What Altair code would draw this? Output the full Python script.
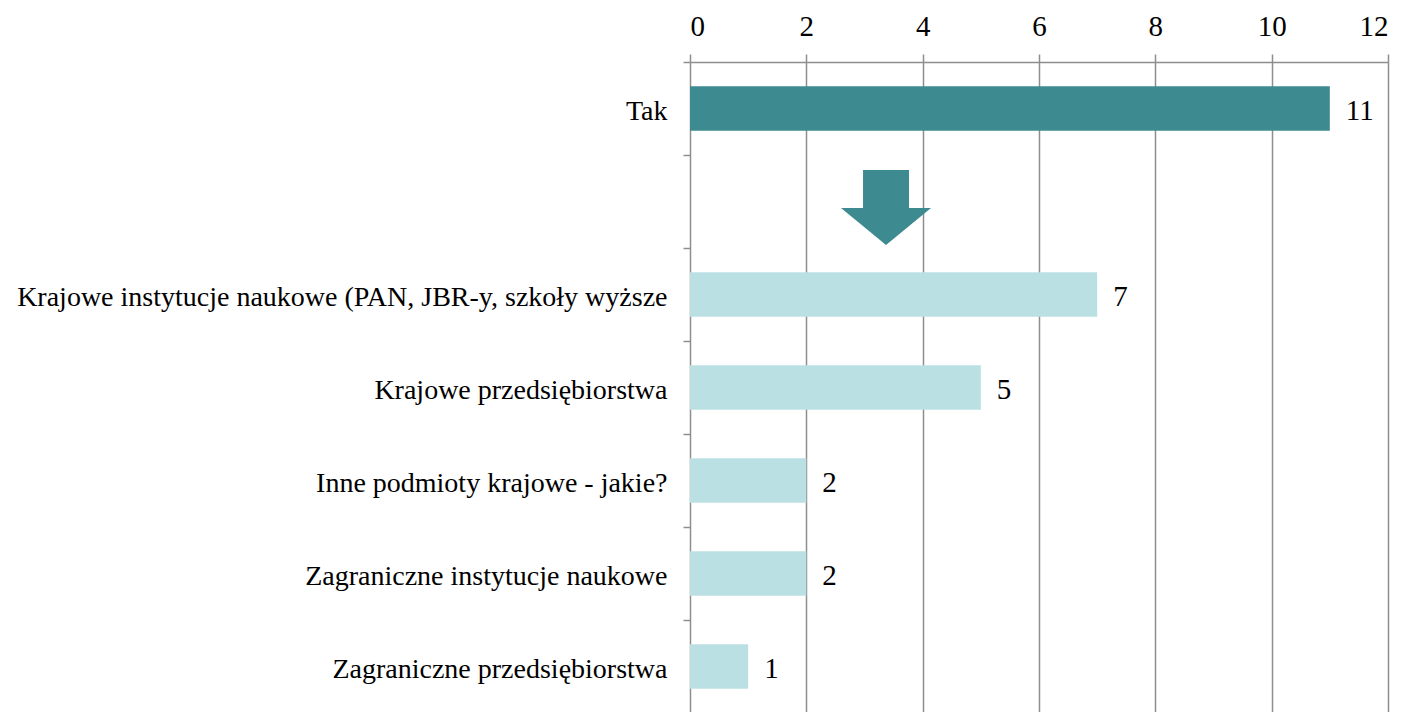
import altair as alt
import pandas as pd

categories = ["Tak", " ", "Krajowe instytucje naukowe (PAN, JBR-y, szkoły wyższe",
              "Krajowe przedsiębiorstwa", "Inne podmioty krajowe - jakie?",
              "Zagraniczne instytucje naukowe", "Zagraniczne przedsiębiorstwa"]
values = [11, None, 7, 5, 2, 2, 1]
groups = ["main", "none", "sub", "sub", "sub", "sub", "sub"]

arrow_x = [3.37]
arrow_cat = [" "]

df = pd.DataFrame({"cat": categories, "val": values, "grp": groups})
df_bars = df.dropna()
df_arrow = pd.DataFrame({"x": arrow_x, "cat": arrow_cat})

yenc = alt.Y("cat:N", sort=categories, title=None,
             scale=alt.Scale(domain=categories, paddingInner=0, paddingOuter=0),
             axis=alt.Axis(labelFont="Liberation Serif", labelFontSize=28, labelColor="black",
                           tickBand="extent", tickColor="#8e8e8e", tickSize=7, tickWidth=1.5,
                           domain=False, labelPadding=16, labelOffset=3, grid=False, labelLimit=1000))

xenc = alt.X("val:Q", title=None,
             scale=alt.Scale(domain=[0, 12], nice=False),
             axis=alt.Axis(orient="top", values=[0, 2, 4, 6, 8, 10, 12], format="d",
                           labelFont="Liberation Serif", labelFontSize=29, labelColor="black",
                           grid=True, gridColor="#8e8e8e", gridWidth=1.5,
                           tickColor="#8e8e8e", tickSize=8, tickWidth=1.5,
                           domainColor="#8e8e8e", domainWidth=1.5, labelPadding=13))

bars = alt.Chart(df_bars).mark_bar(height={"band": 0.48}).encode(
    x=xenc, y=yenc,
    color=alt.Color("grp:N", scale=alt.Scale(domain=["main", "sub"], range=["#3d8b91", "#bbe0e3"]), legend=None),
)

labels = alt.Chart(df_bars).mark_text(align="left", baseline="middle", dx=16, dy=2,
                                      font="Liberation Serif", fontSize=29, color="black").encode(
    x="val:Q", y=alt.Y("cat:N", sort=categories), text="val:Q")

arrow_path = "M-0.511,-0.833 L0.511,-0.833 L0.511,0.011 L1,0.011 L0,0.833 L-1,0.011 L-0.511,0.011 Z"
arrow = alt.Chart(df_arrow).mark_point(shape=arrow_path, size=8100, filled=True, opacity=1,
                                       color="#3d8b91", yOffset=6).encode(
    x="x:Q", y=alt.Y("cat:N", sort=categories))

chart = alt.layer(bars, labels, arrow).properties(
    width=698, height=651, padding={"top": 4, "left": 8, "right": 5, "bottom": 0}
).configure_view(stroke=None)

chart.save("out.html", embed_options={"renderer": "svg", "actions": False})
